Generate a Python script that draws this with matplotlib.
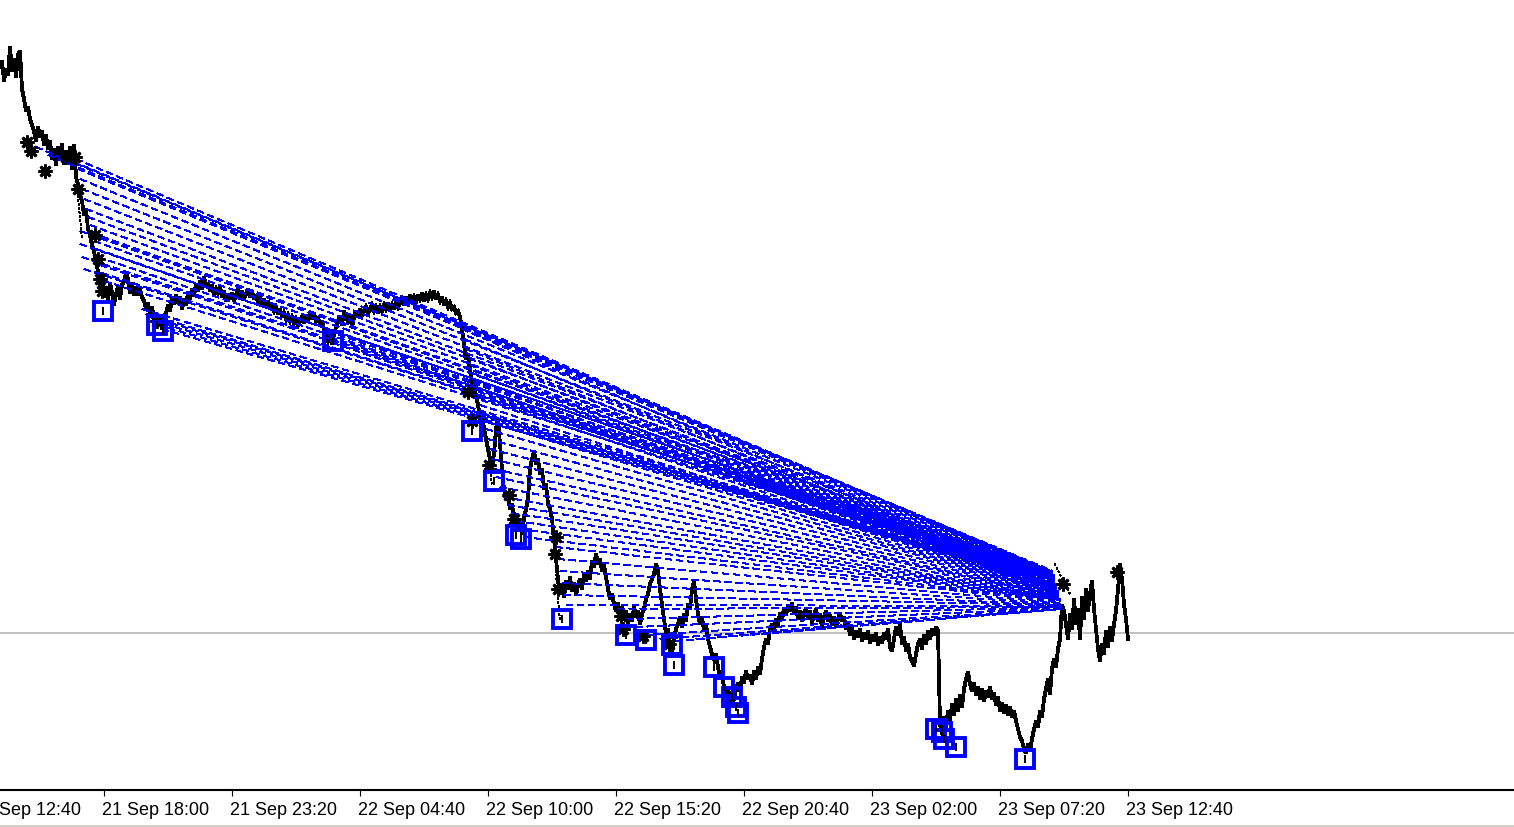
import matplotlib
matplotlib.use('Agg')
import matplotlib.pyplot as plt
import matplotlib.transforms as mtransforms
from matplotlib.patches import Rectangle
import pandas as pd

# ---------------- data ----------------
bar_start = '2022-09-21 13:40'
bar_step = '5min'
close_prices = [
    3932, 3938, 3918, 3930, 3924, 3952, 3928, 3940, 3922, 3944,
    3948, 3910, 3900, 3888, 3892, 3880, 3874, 3868, 3858, 3872,
    3862, 3868, 3854, 3864, 3850, 3858, 3840, 3850, 3834, 3852,
    3842, 3855, 3835, 3848, 3838, 3852, 3830, 3854, 3822, 3814,
    3804, 3798, 3784, 3790, 3770, 3764, 3754, 3748, 3736, 3728,
    3714, 3724, 3702, 3712, 3698, 3716, 3706, 3694, 3705, 3712,
    3700, 3714, 3718, 3726, 3720, 3706, 3716, 3704, 3712, 3704,
    3710, 3702, 3698, 3690, 3696, 3684, 3692, 3680, 3685, 3674,
    3680, 3670, 3682, 3686, 3694, 3688, 3700, 3695, 3704, 3696,
    3702, 3690, 3700, 3694, 3706, 3700, 3710, 3704, 3714, 3708,
    3718, 3710, 3722, 3712, 3716, 3708, 3714, 3704, 3710, 3706,
    3712, 3702, 3708, 3698, 3705, 3700, 3706, 3698, 3704, 3710,
    3702, 3708, 3700, 3705, 3710, 3702, 3708, 3700, 3704, 3696,
    3702, 3694, 3700, 3692, 3698, 3690, 3695, 3688, 3692, 3685,
    3690, 3682, 3686, 3680, 3684, 3678, 3682, 3676, 3680, 3674,
    3678, 3682, 3676, 3684, 3680, 3686, 3680, 3685, 3678, 3682,
    3674, 3678, 3670, 3664, 3658, 3662, 3655, 3664, 3672, 3678,
    3682, 3674, 3688, 3682, 3678, 3684, 3672, 3682, 3688, 3682,
    3690, 3684, 3688, 3692, 3686, 3690, 3694, 3688, 3692, 3686,
    3692, 3688, 3694, 3690, 3696, 3688, 3694, 3690, 3698, 3692,
    3696, 3700, 3694, 3702, 3698, 3704, 3698, 3702, 3696, 3704,
    3700, 3706, 3698, 3704, 3700, 3706, 3702, 3708, 3700, 3704,
    3698, 3702, 3694, 3698, 3692, 3696, 3690, 3692, 3686, 3688,
    3682, 3670, 3655, 3640, 3645, 3628, 3615, 3620, 3602, 3595,
    3580, 3588, 3570, 3560, 3550, 3540, 3530, 3545, 3570, 3580,
    3555, 3530, 3510, 3500, 3505, 3490, 3495, 3480, 3485, 3470,
    3475, 3465, 3480, 3490, 3500, 3530, 3540, 3548, 3535, 3540,
    3525, 3530, 3510, 3515, 3495, 3490, 3480, 3460, 3440, 3420,
    3405, 3415, 3402, 3418, 3410, 3422, 3408, 3416, 3404, 3414,
    3420, 3410, 3425, 3418, 3428, 3420, 3438, 3432, 3445, 3435,
    3440, 3428, 3434, 3422, 3410, 3400, 3405, 3395, 3388, 3396,
    3385, 3392, 3380, 3388, 3376, 3385, 3378, 3392, 3382, 3388,
    3375, 3385, 3390, 3400, 3405, 3415, 3420, 3425, 3435, 3428,
    3410, 3395, 3380, 3365, 3370, 3355, 3345, 3360, 3370, 3375,
    3382, 3372, 3385, 3378, 3395, 3390, 3410, 3418, 3400, 3385,
    3375, 3382, 3368, 3375, 3360, 3352, 3345, 3340, 3345, 3332,
    3320, 3325, 3312, 3305, 3310, 3300, 3294, 3300, 3310, 3316,
    3308, 3322, 3316, 3328, 3320, 3324, 3315, 3328, 3320, 3332,
    3325, 3340, 3352, 3360, 3355, 3370, 3375, 3368, 3380, 3374,
    3386, 3380, 3390, 3384, 3394, 3388, 3396, 3385, 3392, 3380,
    3388, 3378, 3386, 3390, 3380, 3388, 3376, 3384, 3390, 3378,
    3385, 3372, 3382, 3388, 3378, 3384, 3374, 3382, 3372, 3380,
    3386, 3378, 3382, 3370, 3376, 3364, 3372, 3360, 3368, 3362,
    3370, 3358, 3366, 3360, 3368, 3356, 3364, 3358, 3366, 3354,
    3362, 3356, 3366, 3360, 3370, 3352, 3348, 3360, 3372, 3364,
    3375, 3355, 3362, 3348, 3355, 3342, 3338, 3333, 3345, 3355,
    3360, 3350, 3364, 3355, 3368, 3360, 3370, 3364, 3372, 3368,
    3275, 3265, 3282, 3272, 3288, 3278, 3295, 3284, 3300, 3288,
    3304, 3292, 3310, 3320, 3327, 3315, 3308, 3316, 3304, 3312,
    3300, 3310, 3298, 3308, 3302, 3312, 3300, 3306, 3294, 3302,
    3288, 3296, 3286, 3294, 3284, 3292, 3282, 3288, 3278, 3270,
    3262, 3258, 3250, 3246, 3255, 3248, 3260, 3270, 3278, 3272,
    3288, 3282, 3300, 3310, 3320, 3305, 3330, 3340, 3332, 3350,
    3360, 3394, 3388, 3375, 3360, 3385, 3370, 3400, 3375, 3390,
    3360, 3402, 3380, 3410, 3388, 3405, 3418, 3390, 3370, 3350,
    3338, 3355, 3345, 3368, 3352, 3372, 3358, 3375, 3388, 3410,
    3435, 3420, 3395, 3380, 3360,
]

bid_price = 3366

tick_start = '2022-09-21 12:40'
tick_step = '320min'
n_ticks = 10

entry_time = [
    '2022-09-21 15:10', '2022-09-21 15:40', '2022-09-21 16:15',
    '2022-09-21 16:50', '2022-09-21 16:55', '2022-09-21 17:00', '2022-09-21 17:05',
    '2022-09-21 17:10', '2022-09-21 17:15', '2022-09-21 17:20', '2022-09-21 17:25',
    '2022-09-21 17:30', '2022-09-21 17:35', '2022-09-21 17:40', '2022-09-21 17:45',
    '2022-09-21 17:50', '2022-09-21 17:55', '2022-09-21 18:00',
    '2022-09-21 17:00', '2022-09-21 17:00', '2022-09-21 17:05', '2022-09-21 17:10',
    '2022-09-21 19:35', '2022-09-21 19:45', '2022-09-21 19:55', '2022-09-21 20:05',
    '2022-09-21 20:15', '2022-09-21 20:25',
    '2022-09-22 03:20', '2022-09-22 03:25', '2022-09-22 03:32',
    '2022-09-22 08:55', '2022-09-22 09:00', '2022-09-22 09:05', '2022-09-22 09:10',
    '2022-09-22 09:15', '2022-09-22 09:20', '2022-09-22 09:25', '2022-09-22 09:30',
    '2022-09-22 09:35', '2022-09-22 09:40', '2022-09-22 09:45', '2022-09-22 09:50',
    '2022-09-22 09:55', '2022-09-22 10:00', '2022-09-22 10:05', '2022-09-22 10:10',
    '2022-09-22 10:15', '2022-09-22 10:20', '2022-09-22 10:30', '2022-09-22 10:40',
    '2022-09-22 10:50', '2022-09-22 11:00', '2022-09-22 11:10', '2022-09-22 11:20',
    '2022-09-22 11:30',
    '2022-09-22 12:50', '2022-09-22 12:55', '2022-09-22 13:00', '2022-09-22 13:05',
    '2022-09-22 13:10', '2022-09-22 13:15',
    '2022-09-22 15:25', '2022-09-22 15:45', '2022-09-22 16:10', '2022-09-22 16:35',
    '2022-09-22 17:10', '2022-09-22 17:50', '2022-09-22 18:40',
]
entry_price = [
    3852, 3844, 3842,
    3840, 3830, 3820, 3810, 3800, 3790, 3782, 3774, 3766, 3758, 3750, 3742,
    3734, 3726, 3718,
    3768, 3755, 3742, 3730,
    3690, 3685, 3682, 3678, 3674, 3670,
    3668, 3662, 3656,
    3670, 3660, 3650, 3642, 3634, 3626, 3618, 3610, 3602, 3594, 3586, 3578,
    3570, 3560, 3550, 3540, 3530, 3522, 3512, 3502, 3494, 3486, 3478, 3470,
    3462,
    3452, 3440, 3428, 3416, 3404, 3394,
    3390, 3380, 3372, 3364, 3360, 3358, 3360,
]
close_time = [
    '2022-09-23 09:32', '2022-09-23 09:32', '2022-09-23 09:32',
    '2022-09-23 09:32', '2022-09-23 09:32', '2022-09-23 09:32', '2022-09-23 09:32',
    '2022-09-23 09:35', '2022-09-23 09:35', '2022-09-23 09:35', '2022-09-23 09:35',
    '2022-09-23 09:35', '2022-09-23 09:35', '2022-09-23 09:37', '2022-09-23 09:37',
    '2022-09-23 09:37', '2022-09-23 09:37', '2022-09-23 09:37',
    '2022-09-23 09:35', '2022-09-23 09:35', '2022-09-23 09:37', '2022-09-23 09:37',
    '2022-09-23 09:40', '2022-09-23 09:40', '2022-09-23 09:40', '2022-09-23 09:40',
    '2022-09-23 09:40', '2022-09-23 09:40',
    '2022-09-23 09:40', '2022-09-23 09:40', '2022-09-23 09:40',
    '2022-09-23 09:40', '2022-09-23 09:40', '2022-09-23 09:42', '2022-09-23 09:42',
    '2022-09-23 09:42', '2022-09-23 09:42', '2022-09-23 09:42', '2022-09-23 09:42',
    '2022-09-23 09:42', '2022-09-23 09:45', '2022-09-23 09:45', '2022-09-23 09:45',
    '2022-09-23 09:45', '2022-09-23 09:45', '2022-09-23 09:47', '2022-09-23 09:47',
    '2022-09-23 09:47', '2022-09-23 09:47', '2022-09-23 09:47', '2022-09-23 09:47',
    '2022-09-23 09:50', '2022-09-23 09:50', '2022-09-23 09:50', '2022-09-23 09:50',
    '2022-09-23 09:50',
    '2022-09-23 09:50', '2022-09-23 09:52', '2022-09-23 09:52', '2022-09-23 09:52',
    '2022-09-23 09:52', '2022-09-23 09:55',
    '2022-09-23 09:55', '2022-09-23 09:55', '2022-09-23 09:55', '2022-09-23 09:55',
    '2022-09-23 09:55', '2022-09-23 09:55', '2022-09-23 09:55',
]
close_price = [
    3428, 3427, 3427,
    3427, 3426, 3426, 3425, 3424, 3423, 3423, 3422, 3421, 3421, 3420, 3420,
    3419, 3418, 3418,
    3422, 3421, 3420, 3419,
    3416, 3415, 3415, 3415, 3414, 3414,
    3414, 3413, 3413,
    3414, 3413, 3412, 3412, 3411, 3411, 3410, 3409, 3409, 3408, 3408, 3407,
    3406, 3406, 3405, 3404, 3403, 3403, 3402, 3401, 3400, 3400, 3399, 3399,
    3398,
    3397, 3396, 3395, 3394, 3394, 3393,
    3392, 3392, 3391, 3390, 3390, 3390, 3390,
]

square_time = [
    '2022-09-21 17:57', '2022-09-21 20:12', '2022-09-21 20:27',
    '2022-09-22 03:32', '2022-09-22 09:20', '2022-09-22 10:15',
    '2022-09-22 11:10', '2022-09-22 11:22', '2022-09-22 13:05',
    '2022-09-22 15:45', '2022-09-22 16:35', '2022-09-22 17:40',
    '2022-09-22 17:45', '2022-09-22 19:25', '2022-09-22 19:50',
    '2022-09-22 20:10', '2022-09-22 20:20', '2022-09-22 20:25',
    '2022-09-23 04:40', '2022-09-23 04:55', '2022-09-23 05:00',
    '2022-09-23 05:30', '2022-09-23 08:22',
]
square_price = [
    3688, 3674, 3668,
    3658, 3568, 3518,
    3464, 3460, 3380,
    3364, 3359, 3354,
    3334, 3332, 3312,
    3302, 3292, 3286,
    3270, 3267, 3260,
    3252, 3240,
]

star_time = [
    '2022-09-21 14:47', '2022-09-21 14:57', '2022-09-21 15:32', '2022-09-21 16:25',
    '2022-09-21 16:47', '2022-09-21 16:55', '2022-09-21 17:37', '2022-09-21 17:45',
    '2022-09-21 17:50', '2022-09-21 17:55', '2022-09-21 20:12',
    '2022-09-22 09:10', '2022-09-22 09:20', '2022-09-22 10:02', '2022-09-22 10:52',
    '2022-09-22 11:05', '2022-09-22 12:50', '2022-09-22 12:47', '2022-09-22 12:55',
    '2022-09-22 15:32', '2022-09-22 15:37', '2022-09-22 16:27', '2022-09-22 17:32',
    '2022-09-23 09:57', '2022-09-23 12:12',
]
star_price = [
    3857, 3848, 3828, 3842,
    3842, 3810, 3764, 3740,
    3720, 3708, 3678,
    3607, 3578, 3534, 3504,
    3480, 3462, 3445, 3410,
    3383, 3370, 3363, 3355,
    3415, 3427,
]

dot_start_time = ['2022-09-21 16:52', '2022-09-22 09:55', '2022-09-22 12:50', '2022-09-23 09:37']
dot_start_price = [3815, 3560, 3425, 3435]
dot_end_time = ['2022-09-21 17:05', '2022-09-22 10:10', '2022-09-22 13:00', '2022-09-23 10:15']
dot_end_price = [3760, 3515, 3378, 3405]

# ---------------- layout ----------------
W, H, DPI = 1514, 828, 100
PX_MIN = 2.5          # minutes per pixel on the time axis
AX_LEFT_PX = -30      # axes starts a little left of the picture (clipped first label)
AX_BOTTOM_PX = 791    # axis line row

fig = plt.figure(figsize=(W / DPI, H / DPI), dpi=DPI)
fig.patch.set_facecolor('white')
ax = fig.add_axes([AX_LEFT_PX / W, (H - AX_BOTTOM_PX) / H,
                   (W - AX_LEFT_PX) / W, AX_BOTTOM_PX / H])
ax.set_facecolor('white')

t0 = pd.Timestamp(bar_start)
times = pd.date_range(bar_start, periods=len(close_prices), freq=bar_step)

# bid line
ax.axhline(bid_price, color='#c0c0c0', lw=1.4, zorder=1)

# trade lines
for et, ep, ct, cp in zip(entry_time, entry_price, close_time, close_price):
    ax.plot([pd.Timestamp(et), pd.Timestamp(ct)], [ep, cp], color='#0000ff',
            lw=0.75, ls=(0, (6, 4)), antialiased=False, zorder=3)

for st, sp, et, ep in zip(dot_start_time, dot_start_price, dot_end_time, dot_end_price):
    ax.plot([pd.Timestamp(st), pd.Timestamp(et)], [sp, ep], color='black',
            lw=0.75, ls=(0, (1, 2)), antialiased=False, zorder=3)

# price line
ax.plot(times, close_prices, color='black', lw=2.0, antialiased=False,
        solid_joinstyle='miter', zorder=2)

# markers
sq_t = pd.to_datetime(square_time)
ax.plot(sq_t, square_price, ls='none', marker='s', ms=13.5, mfc='none',
        mec='#0000ff', mew=2.8, zorder=5)
ax.plot(sq_t, square_price, ls='none', marker='|', ms=6, mec='black',
        mew=1.4, zorder=5)
ax.plot(pd.to_datetime(star_time), star_price, ls='none', marker=(8, 2, 0),
        ms=10, mec='black', mew=2.0, zorder=4)

# axes ranges
ax.set_xlim(t0 + pd.Timedelta(minutes=AX_LEFT_PX * PX_MIN),
            t0 + pd.Timedelta(minutes=W * PX_MIN))
top_price = 4000
ax.set_ylim(top_price - AX_BOTTOM_PX, top_price)

for s in ['top', 'left', 'right']:
    ax.spines[s].set_visible(False)
ax.spines['bottom'].set_linewidth(1.5)
ax.spines['bottom'].set_color('black')
ax.set_yticks([])

ticks = pd.date_range(tick_start, periods=n_ticks, freq=tick_step)
ax.set_xticks(ticks)
ax.set_xticklabels([t.strftime('%d %b %H:%M') for t in ticks], ha='left',
                   fontsize=13, family='Liberation Sans')
ax.tick_params(axis='x', direction='out', length=4, width=0.8, pad=4,
               colors='black')
offset = mtransforms.ScaledTranslation(-2.5 / DPI, 0, fig.dpi_scale_trans)
for lab in ax.get_xticklabels():
    lab.set_transform(lab.get_transform() + offset)

# bottom grey strip
fig.add_artist(Rectangle((0, 0), 1, 2.5 / H, transform=fig.transFigure,
                         facecolor='#d4d0c8', edgecolor='none'))

fig.savefig('out.png', dpi=DPI)
